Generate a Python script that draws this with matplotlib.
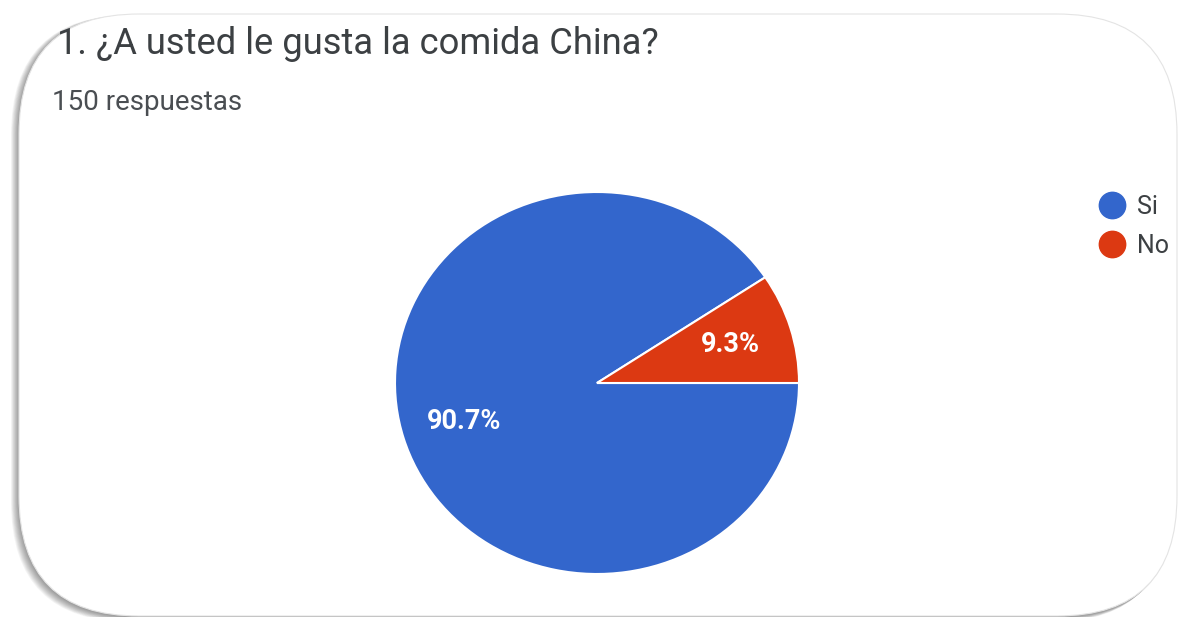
import matplotlib.pyplot as plt
from matplotlib.patches import FancyBboxPatch
from matplotlib.lines import Line2D

plt.rcParams['font.family'] = ['Roboto', 'DejaVu Sans']

# survey answers
titulo = '1. ¿A usted le gusta la comida China?'
subtitulo = '150 respuestas'
opciones = ['Si', 'No']
respuestas = [136, 14]
colores = ['#3366cc', '#dc3912']

W, H = 1179, 617
fig = plt.figure(figsize=(W / 100, H / 100), dpi=100)
fig.patch.set_facecolor('white')

# card background with soft shadow, drawn in pixel units
bg = fig.add_axes([0, 0, 1, 1])
bg.set_xlim(0, W)
bg.set_ylim(H, 0)
bg.axis('off')
x0, y0, x1, y1 = 19, 14, 1177, 616
rr = 120
for i in range(10, 0, -1):
    sh = FancyBboxPatch((x0 - i * 0.8, y0 + 1), (x1 - x0) + i * 0.2, (y1 - y0) + i * 0.5,
                        boxstyle='round,pad=0,rounding_size=%d' % rr,
                        fc='#000000', ec='none', alpha=0.045)
    bg.add_patch(sh)
card = FancyBboxPatch((x0, y0), x1 - x0, y1 - y0,
                      boxstyle='round,pad=0,rounding_size=%d' % rr,
                      fc='white', ec='#e4e4e4', lw=0.8)
bg.add_patch(card)

fig.text(57 / W, 1 - 54 / H, titulo, fontsize=26.2, color='#3c4043', va='baseline', ha='left')
fig.text(52 / W, 1 - 110 / H, subtitulo, fontsize=20, color='#4a4e52',
         va='baseline', ha='left')

# pie
cx, cy, rx, ry = 597, 383, 202, 191
ax = fig.add_axes([(cx - rx) / W, (H - cy - ry) / H, 2 * rx / W, 2 * ry / H])
wedges, _, autotexts = ax.pie(respuestas, colors=colores, startangle=0, counterclock=False,
                              autopct='%1.1f%%', pctdistance=0.69,
                              wedgeprops=dict(edgecolor='white', linewidth=1.5),
                              textprops=dict(color='white', fontsize=19.5, fontweight='bold'))
ax.set_aspect('auto')
ax.set_xlim(-1, 1)
ax.set_ylim(-1, 1)

handles = [Line2D([], [], marker='o', ls='none', markersize=19, markerfacecolor=c, markeredgecolor=c)
           for c in colores]
fig.legend(handles, opciones, loc='upper left', bbox_to_anchor=(1087 / W, 1 - 182 / H),
           frameon=False, fontsize=18, handletextpad=0.5, labelspacing=0.62,
           borderpad=0, handlelength=1.0, labelcolor='#3c4043')

fig.savefig('out.png', dpi=100)
